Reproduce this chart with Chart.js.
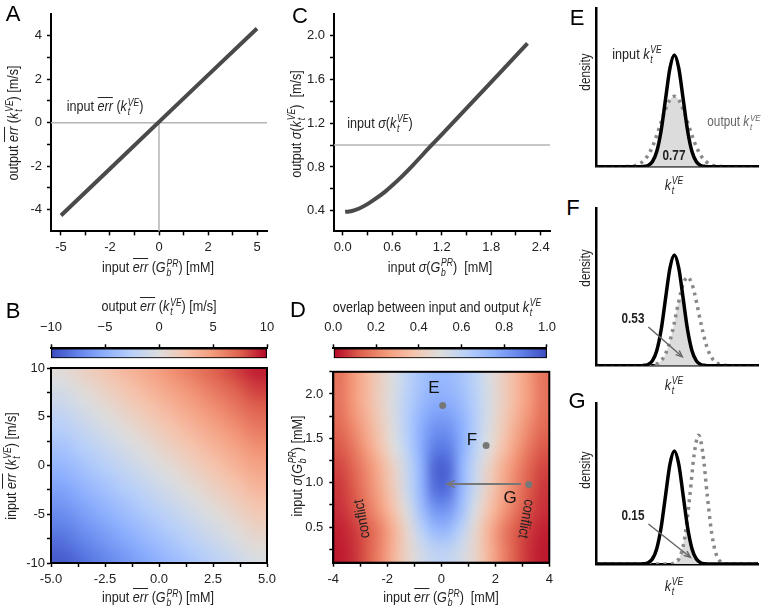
<!DOCTYPE html>
<html>
<head>
<meta charset="utf-8">
<script src="https://cdn.jsdelivr.net/npm/chart.js@4.4.1/dist/chart.umd.min.js"></script>
<style>
html, body { margin: 0; padding: 0; background: #fff; }
#fig { position: relative; width: 762px; height: 613px; overflow: hidden;
  font-family: "Liberation Sans", Arial, sans-serif; color: #222; }
#fig canvas { position: absolute; }
.t { position: absolute; white-space: nowrap; font-size: 15px; line-height: 1; transform: translate(-50%, -50%) scaleX(0.84); }
.r { transform: translate(-50%, -50%) rotate(-90deg) scaleX(0.84); }
.big { font-size: 22px; color: #000; transform: translate(-50%, -50%); }
.pt { font-size: 17px; color: #111; transform: translate(-50%, -50%); }
.cl { transform: translate(-50%, -50%) rotate(-100deg) scaleX(0.84); }
.cr { transform: translate(-50%, -50%) rotate(100deg) scaleX(0.84); }
.sm { font-size: 14px; }
.b { font-weight: bold; font-size: 14px; }
.g { color: #666; font-size: 14px; }
.ov { font-style: italic; display: inline-block; border-top: 1.2px solid currentColor; line-height: 0.9; padding-top: 1px; }
.ss { display: inline-block; font-size: 0.68em; line-height: 0.95; vertical-align: -0.42em; margin-left: 1px; text-align: left; }
</style>
</head>
<body>
<div id="fig"></div>
<script>
// ---------- data ----------
// A: output vs input mean error
const aInErr = [-5, -2.5, 0, 2.5, 5];
const aOutErr = [-4.27, -2.12, 0.04, 2.19, 4.33];
const aRefIn = 0, aRefOut = 0;
const aXTicks = [-5, -3.75, -2.5, -1.25, 0, 1.25, 2.5, 3.75, 5];
const aXLabels = ['-5', '', '-2', '', '0', '', '2', '', '5'];
const aYTicks = [-4, -3, -2, -1, 0, 1, 2, 3, 4];
const aYLabels = ['-4', '', '-2', '', '0', '', '2', '', '4'];

// C: output vs input sigma
const cInSigma = [0.03, 0.1, 0.2, 0.3, 0.4, 0.5, 0.6, 0.7, 0.85, 1.06, 1.3, 1.6, 1.9, 2.24];
const cOutSigma = [0.39, 0.395, 0.42, 0.46, 0.51, 0.565, 0.63, 0.70, 0.815, 0.985, 1.175, 1.415, 1.655, 1.93];
const cRefOut = 1.0;
const cXTicks = [0, 0.3, 0.6, 0.9, 1.2, 1.5, 1.8, 2.1, 2.4];
const cXLabels = ['0.0', '', '0.6', '', '1.2', '', '1.8', '', '2.4'];
const cYTicks = [0.4, 0.6, 0.8, 1.0, 1.2, 1.4, 1.6, 1.8, 2.0];
const cYLabels = ['0.4', '', '0.8', '', '1.2', '', '1.6', '', '2.0'];

// B: output mean error over (input err G, input err k)
const bErrG = [-4.5, -3.5, -2.5, -1.5, -0.5, 0.5, 1.5, 2.5, 3.5, 4.5];
const bErrK = [9.5, 8.5, 7.5, 6.5, 5.5, 4.5, 3.5, 2.5, 1.5, 0.5, -0.5, -1.5, -2.5, -3.5, -4.5, -5.5, -6.5, -7.5, -8.5, -9.5];
const bOut = [
  [0.25, 1.25, 2.25, 3.25, 4.25, 5.25, 6.25, 7.25, 8.25, 9.25],
  [-0.25, 0.75, 1.75, 2.75, 3.75, 4.75, 5.75, 6.75, 7.75, 8.75],
  [-0.75, 0.25, 1.25, 2.25, 3.25, 4.25, 5.25, 6.25, 7.25, 8.25],
  [-1.25, -0.25, 0.75, 1.75, 2.75, 3.75, 4.75, 5.75, 6.75, 7.75],
  [-1.75, -0.75, 0.25, 1.25, 2.25, 3.25, 4.25, 5.25, 6.25, 7.25],
  [-2.25, -1.25, -0.25, 0.75, 1.75, 2.75, 3.75, 4.75, 5.75, 6.75],
  [-2.75, -1.75, -0.75, 0.25, 1.25, 2.25, 3.25, 4.25, 5.25, 6.25],
  [-3.25, -2.25, -1.25, -0.25, 0.75, 1.75, 2.75, 3.75, 4.75, 5.75],
  [-3.75, -2.75, -1.75, -0.75, 0.25, 1.25, 2.25, 3.25, 4.25, 5.25],
  [-4.25, -3.25, -2.25, -1.25, -0.25, 0.75, 1.75, 2.75, 3.75, 4.75],
  [-4.75, -3.75, -2.75, -1.75, -0.75, 0.25, 1.25, 2.25, 3.25, 4.25],
  [-5.25, -4.25, -3.25, -2.25, -1.25, -0.25, 0.75, 1.75, 2.75, 3.75],
  [-5.75, -4.75, -3.75, -2.75, -1.75, -0.75, 0.25, 1.25, 2.25, 3.25],
  [-6.25, -5.25, -4.25, -3.25, -2.25, -1.25, -0.25, 0.75, 1.75, 2.75],
  [-6.75, -5.75, -4.75, -3.75, -2.75, -1.75, -0.75, 0.25, 1.25, 2.25],
  [-7.25, -6.25, -5.25, -4.25, -3.25, -2.25, -1.25, -0.25, 0.75, 1.75],
  [-7.75, -6.75, -5.75, -4.75, -3.75, -2.75, -1.75, -0.75, 0.25, 1.25],
  [-8.25, -7.25, -6.25, -5.25, -4.25, -3.25, -2.25, -1.25, -0.25, 0.75],
  [-8.75, -7.75, -6.75, -5.75, -4.75, -3.75, -2.75, -1.75, -0.75, 0.25],
  [-9.25, -8.25, -7.25, -6.25, -5.25, -4.25, -3.25, -2.25, -1.25, -0.25]
];
const bXTicks = [-5, -3.75, -2.5, -1.25, 0, 1.25, 2.5, 3.75, 5];
const bXLabels = ['-5.0', '', '-2.5', '', '0.0', '', '2.5', '', '5.0'];
const bYTicks = [-10, -7.5, -5, -2.5, 0, 2.5, 5, 7.5, 10];
const bYLabels = ['-10', '', '-5', '', '0', '', '5', '', '10'];
const bBarRange = [-10, 10];
const bBarTicks = [-10, -5, 0, 5, 10];
const bBarLabels = ['\u221210', '\u22125', '0', '5', '10'];

// D: overlap over (input err G, input sigma G)
const dErrG = [-3.75, -3.25, -2.75, -2.25, -1.75, -1.25, -0.75, -0.25, 0.25, 0.75, 1.25, 1.75, 2.25, 2.75, 3.25, 3.75];
const dSigmaG = [2.125, 1.875, 1.625, 1.375, 1.125, 0.875, 0.625, 0.375, 0.125];
const dOverlap = [
  [0.17, 0.25, 0.34, 0.43, 0.52, 0.61, 0.68, 0.72, 0.72, 0.68, 0.61, 0.52, 0.43, 0.34, 0.25, 0.17],
  [0.17, 0.25, 0.34, 0.43, 0.53, 0.63, 0.71, 0.76, 0.76, 0.71, 0.63, 0.53, 0.43, 0.34, 0.25, 0.17],
  [0.15, 0.22, 0.31, 0.41, 0.52, 0.64, 0.75, 0.82, 0.82, 0.75, 0.64, 0.52, 0.41, 0.31, 0.22, 0.15],
  [0.12, 0.18, 0.27, 0.38, 0.50, 0.62, 0.76, 0.88, 0.88, 0.76, 0.62, 0.50, 0.38, 0.27, 0.18, 0.12],
  [0.09, 0.14, 0.22, 0.32, 0.44, 0.58, 0.74, 0.94, 0.94, 0.74, 0.58, 0.44, 0.32, 0.22, 0.14, 0.09],
  [0.07, 0.12, 0.20, 0.30, 0.42, 0.57, 0.73, 0.92, 0.92, 0.73, 0.57, 0.42, 0.30, 0.20, 0.12, 0.07],
  [0.06, 0.10, 0.17, 0.26, 0.38, 0.52, 0.69, 0.82, 0.82, 0.69, 0.52, 0.38, 0.26, 0.17, 0.10, 0.06],
  [0.04, 0.07, 0.12, 0.20, 0.32, 0.46, 0.61, 0.71, 0.71, 0.61, 0.46, 0.32, 0.20, 0.12, 0.07, 0.04],
  [0.03, 0.06, 0.12, 0.21, 0.33, 0.45, 0.54, 0.60, 0.60, 0.54, 0.45, 0.33, 0.21, 0.12, 0.06, 0.03]
];
const dMarkErr = [0.05, 1.66, 3.24];     // E, F, G
const dMarkSigma = [1.87, 1.42, 0.98];
const dShiftFrom = [2.95, 0.985], dShiftTo = [0.2, 0.985];
const dXTicks = [-4, -3, -2, -1, 0, 1, 2, 3, 4];
const dXLabels = ['-4', '', '-2', '', '0', '', '2', '', '4'];
const dYTicks = [0.25, 0.5, 0.75, 1.0, 1.25, 1.5, 1.75, 2.0, 2.25];
const dYLabels = ['', '0.5', '', '1.0', '', '1.5', '', '2.0', ''];
const dBarRange = [0, 1];
const dBarTicks = [0, 0.2, 0.4, 0.6, 0.8, 1.0];
const dBarLabels = ['0.0', '0.2', '0.4', '0.6', '0.8', '1.0'];

// E-G: densities of input / output k (arbitrary units)
const kRange = [-8.9, 9.5];
const kIn = [-8.9, -4, -3.5, -3, -2.5, -2, -1.5, -1, -0.5, 0, 0.5, 1, 1.5, 2, 2.5, 3, 3.5, 4, 9.5];
const inDens = [0, 0.0003, 0.0022, 0.0111, 0.0439, 0.1353, 0.3247, 0.6065, 0.8825, 1, 0.8825, 0.6065, 0.3247, 0.1353, 0.0439, 0.0111, 0.0022, 0.0003, 0];
const eOutK = [-8.9, -6, -5.5, -5, -4.5, -4, -3.5, -3, -2.5, -2, -1.5, -1, -0.5, 0, 0.5, 1, 1.5, 2, 2.5, 3, 3.5, 4, 4.5, 5, 5.5, 6, 9.5];
const eOutDens = [0, 0, 0.001, 0.004, 0.010, 0.025, 0.052, 0.101, 0.177, 0.280, 0.399, 0.514, 0.599, 0.63, 0.599, 0.514, 0.399, 0.280, 0.177, 0.101, 0.052, 0.025, 0.010, 0.004, 0.001, 0, 0];
const eOverlap = [0, 0.0003, 0.0022, 0.0111, 0.0439, 0.1353, 0.3247, 0.514, 0.599, 0.63, 0.599, 0.514, 0.3247, 0.1353, 0.0439, 0.0111, 0.0022, 0.0003, 0];
const fOutK = [-8.9, -3.5, -3, -2.5, -2, -1.5, -1, -0.5, 0, 0.5, 1, 1.5, 2, 2.5, 3, 3.5, 4, 4.5, 5, 5.5, 6, 6.5, 9.5];
const fOutDens = [0, 0, 0.001, 0.005, 0.016, 0.045, 0.108, 0.222, 0.389, 0.581, 0.738, 0.8, 0.738, 0.581, 0.389, 0.222, 0.108, 0.045, 0.016, 0.005, 0.001, 0, 0];
const fOverlap = [0, 0, 0, 0.001, 0.005, 0.016, 0.045, 0.108, 0.222, 0.389, 0.581, 0.6065, 0.3247, 0.1353, 0.0439, 0.0111, 0.0022, 0.0003, 0];
const gOutK = [-8.9, -0.75, -0.25, 0.25, 0.75, 1.25, 1.75, 2.25, 2.75, 3.25, 3.75, 4.25, 4.75, 5.25, 5.75, 6.25, 9.5];
const gOutDens = [0, 0, 0.003, 0.020, 0.086, 0.267, 0.598, 0.970, 1.14, 0.970, 0.598, 0.267, 0.086, 0.020, 0.003, 0, 0];
const gOverK = [-8.9, -0.75, -0.25, 0.25, 0.75, 1.25, 1.5, 1.75, 2.25, 2.75, 3.25, 3.75, 4.25, 9.5];
const gOverlap = [0, 0, 0.003, 0.020, 0.086, 0.267, 0.3247, 0.2165, 0.0796, 0.0228, 0.0051, 0.0009, 0.0001, 0];
const densMax = 1.42;
const fArrow = { from: [-2.95, 0.35], to: [0.9, 0.08] };
const gArrow = { from: [-2.95, 0.354], to: [1.82, 0.06] };

// ---------- helpers ----------
const fig = document.getElementById('fig');
Chart.defaults.font.family = '"Liberation Sans", Arial, sans-serif';
Chart.defaults.font.size = 13;
Chart.defaults.color = '#222';

const coolwarmStops = [[59, 76, 192], [98, 130, 234], [141, 176, 254], [184, 208, 249], [221, 221, 221],
  [245, 196, 173], [244, 154, 123], [222, 96, 77], [180, 4, 38]];
function coolwarm(t) {
  t = Math.max(0, Math.min(1, t)) * 8;
  const i = Math.min(7, Math.floor(t)), f = t - i;
  const a = coolwarmStops[i], b = coolwarmStops[i + 1];
  return 'rgb(' + a.map((c, k) => Math.round(c + (b[k] - c) * f)).join(',') + ')';
}
const pts = (xs, ys) => xs.map((x, i) => ({ x, y: ys[i] }));

function makeCanvas(box) {
  const c = document.createElement('canvas');
  c.width = box.w; c.height = box.h;
  c.style.left = box.x + 'px'; c.style.top = box.y + 'px';
  c.style.width = box.w + 'px'; c.style.height = box.h + 'px';
  fig.appendChild(c);
  return c;
}
// padding so that the plot area lands where it is in the figure
function pad(box, area, yW, xH, xTop) {
  return {
    left: area.l - box.x - yW,
    right: box.x + box.w - area.r,
    top: area.t - box.y - (xTop ? xH : 0),
    bottom: box.y + box.h - area.b - (xTop ? 0 : xH)
  };
}
function baseOptions(box, area, yW, xH, scales, extra = {}, xTop = false) {
  return {
    responsive: false, animation: false, devicePixelRatio: 1, events: [],
    layout: { autoPadding: false, padding: pad(box, area, yW, xH, xTop) },
    plugins: Object.assign({ legend: { display: false }, tooltip: { enabled: false } }, extra),
    scales
  };
}
function linAxis(min, max, vals, labels, o) {
  const ax = {
    type: 'linear', min, max, offset: false,
    afterBuildTicks: s => { s.ticks = vals.map(v => ({ value: v })); },
    afterFit: o.fit,
    ticks: { autoSkip: false, maxRotation: 0, minRotation: 0, padding: o.pad, color: '#222',
      font: { size: 13 }, callback: (v, i) => labels[i] },
    grid: { offset: false, drawOnChartArea: false, tickLength: 4, tickColor: '#000', tickWidth: 1.5 },
    border: { color: '#000', width: 2 }
  };
  if (o.position) ax.position = o.position;
  return ax;
}
// each cell keeps its own colour; the browser smooths between cell centres when scaling the grid up
const patternCache = new WeakMap();
function heatPattern(chart, grid, colorOf) {
  const a = chart.chartArea;
  if (!a) return '#ddd';
  if (patternCache.has(chart)) return patternCache.get(chart);
  const rows = grid.length, cols = grid[0].length;
  const src = document.createElement('canvas');
  src.width = cols + 2; src.height = rows + 2;
  const sc = src.getContext('2d');
  for (let r = -1; r <= rows; r++) {
    for (let c = -1; c <= cols; c++) {
      const rr = Math.min(rows - 1, Math.max(0, r)), cc = Math.min(cols - 1, Math.max(0, c));
      sc.fillStyle = colorOf(grid[rr][cc]);
      sc.fillRect(c + 1, r + 1, 1, 1);
    }
  }
  const w = Math.round(a.right - a.left), h = Math.round(a.bottom - a.top);
  const big = document.createElement('canvas');
  big.width = w; big.height = h;
  const bc = big.getContext('2d');
  bc.imageSmoothingEnabled = true;
  bc.imageSmoothingQuality = 'high';
  bc.drawImage(src, 1, 1, cols, rows, 0, 0, w, h);
  const p = chart.ctx.createPattern(big, 'no-repeat');
  p.setTransform(new DOMMatrix([1, 0, 0, 1, a.left, a.top]));
  patternCache.set(chart, p);
  return p;
}
function heatRows(rowCenters, values, colorOf) {
  const half = Math.abs(rowCenters[0] - rowCenters[1]) / 2;
  return values.map((row, r) => ({
    type: 'bar', xAxisID: 'xc', yAxisID: 'y', order: 1, clip: 0,
    data: row.map(() => [rowCenters[r] - half, rowCenters[r] + half]),
    backgroundColor: ctx => heatPattern(ctx.chart, values, colorOf),
    borderWidth: 0, inflateAmount: 1, grouped: false, barPercentage: 1, categoryPercentage: 1
  }));
}
const framePlugin = {
  id: 'frame',
  afterDatasetsDraw(chart) {
    const a = chart.chartArea, ctx = chart.ctx;
    ctx.save(); ctx.strokeStyle = '#000'; ctx.lineWidth = 2;
    ctx.strokeRect(a.left, a.top, a.right - a.left, a.bottom - a.top);
    ctx.restore();
  }
};
const arrowPlugin = {
  id: 'arrow',
  afterDatasetsDraw(chart, args, opts) {
    if (!opts || !opts.from) return;
    const sx = chart.scales.x, sy = chart.scales.y, ctx = chart.ctx;
    const x0 = sx.getPixelForValue(opts.from[0]), y0 = sy.getPixelForValue(opts.from[1]);
    const x1 = sx.getPixelForValue(opts.to[0]), y1 = sy.getPixelForValue(opts.to[1]);
    const ang = Math.atan2(y1 - y0, x1 - x0), hl = opts.head || 8;
    ctx.save();
    ctx.strokeStyle = opts.color; ctx.lineWidth = opts.width;
    ctx.beginPath(); ctx.moveTo(x0, y0); ctx.lineTo(x1 - Math.cos(ang) * 2, y1 - Math.sin(ang) * 2); ctx.stroke();
    ctx.lineWidth = 1.5;
    ctx.beginPath();
    ctx.moveTo(x1 - hl * Math.cos(ang - 0.4), y1 - hl * Math.sin(ang - 0.4));
    ctx.lineTo(x1, y1);
    ctx.lineTo(x1 - hl * Math.cos(ang + 0.4), y1 - hl * Math.sin(ang + 0.4));
    ctx.stroke();
    ctx.restore();
  }
};
function colorBar(box, area, range, ticks, labels, reverse) {
  new Chart(makeCanvas(box), {
    type: 'bar',
    data: { labels: [''], datasets: [{
      data: [range], borderColor: '#000', borderWidth: 1.5, borderSkipped: false,
      barPercentage: 1, categoryPercentage: 1,
      backgroundColor: ctx => {
        const a = ctx.chart.chartArea;
        if (!a) return '#ddd';
        const g = ctx.chart.ctx.createLinearGradient(a.left, 0, a.right, 0);
        for (let i = 0; i <= 16; i++) g.addColorStop(i / 16, coolwarm(reverse ? 1 - i / 16 : i / 16));
        return g;
      }
    }] },
    options: Object.assign(baseOptions(box, area, 0, 38, {
      x: linAxis(range[0], range[1], ticks, labels, { position: 'top', pad: 9, fit: s => { s.height = 38; } }),
      y: { type: 'category', display: false, offset: true }
    }, {}, true), { indexAxis: 'y' })
  });
}
function densityChart(box, area, outK, outDens, overK, overDens, arrow) {
  new Chart(makeCanvas(box), {
    type: 'line',
    data: { datasets: [
      { data: pts(kIn, inDens), borderColor: '#000', borderWidth: 3.5, pointRadius: 0, cubicInterpolationMode: 'monotone' },
      { data: pts(outK, outDens), borderColor: '#888', borderWidth: 3.5, borderDash: [3, 4.5], borderCapStyle: 'butt',
        pointRadius: 0, cubicInterpolationMode: 'monotone' },
      { data: pts(overK, overDens), borderColor: 'rgba(0,0,0,0)', borderWidth: 0, pointRadius: 0,
        fill: 'origin', backgroundColor: '#dcdcdc', cubicInterpolationMode: 'monotone' }
    ] },
    plugins: [arrowPlugin],
    options: baseOptions(box, area, 0, 0, {
      x: { type: 'linear', min: kRange[0], max: kRange[1], ticks: { display: false }, grid: { display: false },
        border: { color: '#000', width: 2.5 }, afterFit: s => { s.height = 0; } },
      y: { type: 'linear', min: 0, max: densMax, ticks: { display: false }, grid: { display: false },
        border: { color: '#000', width: 2.5 }, afterFit: s => { s.width = 0; } }
    }, { arrow: arrow ? { from: arrow.from, to: arrow.to, color: '#666', width: 1.5, head: 7 } : {} })
  });
}

// ---------- A ----------
{
  const box = { x: 0, y: 0, w: 282, h: 258 }, area = { l: 51, r: 267, t: 14, b: 231.4 };
  new Chart(makeCanvas(box), {
    type: 'line',
    data: { datasets: [
      { data: pts(aInErr, aOutErr), borderColor: '#4a4a4a', borderWidth: 4, pointRadius: 0 },
      { data: [{ x: -5.51, y: aRefOut }, { x: 5.51, y: aRefOut }], borderColor: '#b5b5b5', borderWidth: 1.5, pointRadius: 0 },
      { data: [{ x: aRefIn, y: -5 }, { x: aRefIn, y: aRefOut }], borderColor: '#b5b5b5', borderWidth: 1.5, pointRadius: 0 }
    ] },
    options: baseOptions(box, area, 51, 26, {
      x: linAxis(-5.51, 5.51, aXTicks, aXLabels, { pad: 4, fit: s => { s.height = 26; } }),
      y: linAxis(-5, 5, aYTicks, aYLabels, { pad: 5, fit: s => { s.width = 51; } })
    })
  });
}
// ---------- C ----------
{
  const box = { x: 292, y: 0, w: 270, h: 258 }, area = { l: 334, r: 550, t: 14, b: 231.4 };
  new Chart(makeCanvas(box), {
    type: 'line',
    data: { datasets: [
      { data: pts(cInSigma, cOutSigma), borderColor: '#4a4a4a', borderWidth: 4, pointRadius: 0, cubicInterpolationMode: 'monotone' },
      { data: [{ x: -0.105, y: cRefOut }, { x: 2.513, y: cRefOut }], borderColor: '#b5b5b5', borderWidth: 1.5, pointRadius: 0 }
    ] },
    options: baseOptions(box, area, 42, 26, {
      x: linAxis(-0.105, 2.513, cXTicks, cXLabels, { pad: 4, fit: s => { s.height = 26; } }),
      y: linAxis(0.211, 2.198, cYTicks, cYLabels, { pad: 5, fit: s => { s.width = 42; } })
    })
  });
}
// ---------- B ----------
colorBar({ x: 0, y: 305, w: 285, h: 56 }, { l: 51, r: 267, t: 348.3, b: 358.3 }, bBarRange, bBarTicks, bBarLabels, false);
{
  const box = { x: 0, y: 358, w: 285, h: 233 }, area = { l: 51, r: 267, t: 368, b: 563 };
  new Chart(makeCanvas(box), {
    type: 'bar',
    data: { labels: bErrG.map(String), datasets: heatRows(bErrK, bOut, v => coolwarm((v + 10) / 20)) },
    plugins: [framePlugin],
    options: baseOptions(box, area, 51, 26, {
      xc: { type: 'category', axis: 'x', display: false, offset: true },
      x: linAxis(-5, 5, bXTicks, bXLabels, { pad: 5, fit: s => { s.height = 26; } }),
      y: linAxis(-10, 10, bYTicks, bYLabels, { pad: 2, fit: s => { s.width = 51; } })
    })
  });
}
// ---------- D ----------
colorBar({ x: 290, y: 305, w: 275, h: 56 }, { l: 333.3, r: 549.3, t: 348.3, b: 358.3 }, dBarRange, dBarTicks, dBarLabels, true);
{
  const box = { x: 290, y: 358, w: 275, h: 233 }, area = { l: 333.3, r: 549.3, t: 368.3, b: 562.7 };
  new Chart(makeCanvas(box), {
    type: 'bar',
    data: { labels: dErrG.map(String), datasets: [
      { type: 'scatter', xAxisID: 'x', yAxisID: 'y', order: 0, data: pts(dMarkErr, dMarkSigma),
        pointRadius: 3.5, backgroundColor: '#777', borderWidth: 0 },
      ...heatRows(dSigmaG, dOverlap, v => coolwarm(1 - v))
    ] },
    plugins: [framePlugin, arrowPlugin],
    options: baseOptions(box, area, 43.3, 26, {
      xc: { type: 'category', axis: 'x', display: false, offset: true },
      x: linAxis(-4, 4, dXTicks, dXLabels, { pad: 5, fit: s => { s.height = 26; } }),
      y: linAxis(0.1, 2.25, dYTicks, dYLabels, { pad: 6, fit: s => { s.width = 43.3; } })
    }, { arrow: { from: dShiftFrom, to: dShiftTo, color: '#777', width: 2, head: 9 } })
  });
}
// ---------- E, F, G ----------
densityChart({ x: 588, y: 0, w: 174, h: 172 }, { l: 596, r: 758, t: 8.1, b: 166.7 }, eOutK, eOutDens, kIn, eOverlap, null);
densityChart({ x: 588, y: 196, w: 174, h: 174 }, { l: 596, r: 758, t: 208.5, b: 365.7 }, fOutK, fOutDens, kIn, fOverlap, fArrow);
densityChart({ x: 588, y: 394, w: 174, h: 174 }, { l: 596, r: 758, t: 403.5, b: 564 }, gOutK, gOutDens, gOverK, gOverlap, gArrow);

// ---------- text ----------
const KVE = '<i>k</i><span class="ss"><i>VE</i><br><i>t</i></span>';
const GPR = '<i>G</i><span class="ss"><i>PR</i><br><i>b</i></span>';
const ERR = '<span class="ov">err</span>';
const texts = [
  ['A', 13, 14, 'big'], ['C', 300, 16, 'big'], ['B', 13, 311, 'big'], ['D', 298, 310, 'big'],
  ['E', 577, 18, 'big'], ['F', 573, 208, 'big'], ['G', 577, 401, 'big'],
  [`output ${ERR} (${KVE}) [m/s]`, 14, 123, 'r'],
  [`input ${ERR} (${GPR}) [mM]`, 158, 268, ''],
  [`input ${ERR} (${KVE})`, 105, 107, ''],
  [`output <i>σ</i>(${KVE})&nbsp; [m/s]`, 297, 124, 'r'],
  [`input <i>σ</i>(${GPR})&nbsp; [mM]`, 440, 268, ''],
  [`input <i>σ</i>(${KVE})`, 380, 124, ''],
  [`output ${ERR} (${KVE}) [m/s]`, 159, 307, ''],
  [`input ${ERR} (${GPR}) [mM]`, 158, 598, ''],
  [`input ${ERR} (${KVE}) [m/s]`, 12, 466, 'r'],
  [`overlap between input and output ${KVE}`, 437, 308, ''],
  [`input ${ERR} (${GPR})&nbsp; [mM]`, 441, 598, ''],
  [`input <i>σ</i>(${GPR}) [mM]`, 298, 466, 'r'],
  ['E', 434, 387, 'pt'], ['F', 472, 439, 'pt'], ['G', 510, 497, 'pt'],
  ['conflict', 361, 519, 'cl'], ['conflict', 527, 519, 'cr'],
  ['density', 585, 72, 'r sm'], ['density', 585, 268, 'r sm'], ['density', 585, 470, 'r sm'],
  [KVE, 674, 186, ''], [KVE, 674, 386, ''], [KVE, 674, 587, ''],
  [`input ${KVE}`, 637, 55, ''], [`output ${KVE}`, 734, 122, 'g'],
  ['0.77', 674, 155, 'b'], ['0.53', 633, 318, 'b'], ['0.15', 633, 515, 'b']
];
for (const [html, x, y, cls] of texts) {
  const d = document.createElement('div');
  d.className = 't ' + cls;
  d.style.left = x + 'px'; d.style.top = y + 'px';
  d.innerHTML = html;
  fig.appendChild(d);
}
</script>
</body>
</html>
